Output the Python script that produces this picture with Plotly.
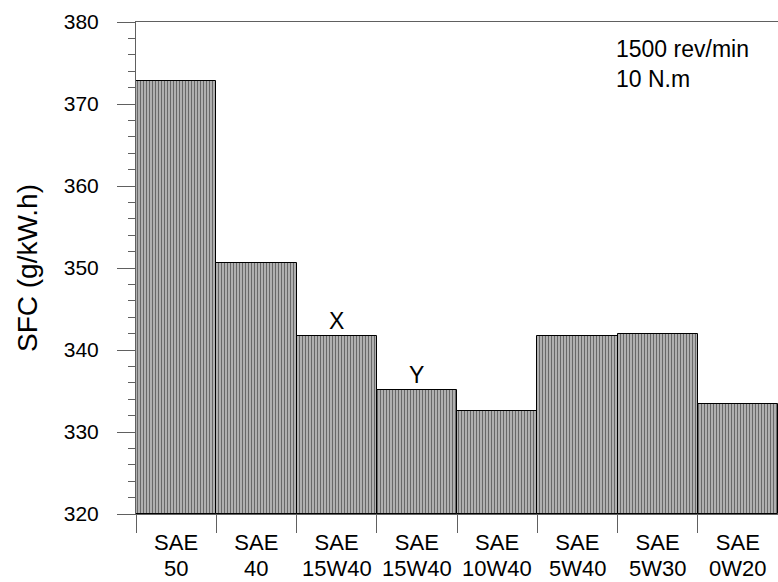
import plotly.graph_objects as go

# Specific fuel consumption for each lubricant grade
family = ["SAE"] * 8
grades = ["50", "40", "15W40", "15W40", "10W40", "5W40", "5W30", "0W20"]
sfc = [372.8, 350.6, 341.7, 335.1, 332.6, 341.7, 341.9, 333.4]
marks = ["", "", "X", "Y", "", "", "", ""]

pos = list(range(len(grades)))
FONT = "Liberation Sans, Arial, sans-serif"
AXIS = "#606060"
FLOOR = 320

fig = go.Figure(go.Bar(
    x=pos, y=[v - FLOOR for v in sfc], base=FLOOR, width=1,
    marker=dict(
        color="#b0b0b0",
        line=dict(color="black", width=1),
        pattern=dict(shape="|", size=3, solidity=0.34,
                     fgcolor="#202020", bgcolor="#b0b0b0"),
    ),
))

for x, v, t in zip(pos, sfc, marks):
    if t:
        fig.add_annotation(x=x, y=v, text=t, showarrow=False,
                           yanchor="bottom", yshift=0,
                           font=dict(family=FONT, size=23, color="black"))

# second line of each category label (grade)
for x, g in zip(pos, grades):
    fig.add_annotation(x=x, xref="x", y=0, yref="paper", yshift=-68,
                       text=g, showarrow=False, yanchor="bottom",
                       borderpad=0,
                       font=dict(family=FONT, size=22, color="black"))

fig.add_annotation(xref="paper", yref="paper", x=0.744, y=0.975,
                   xanchor="left", yanchor="top", align="left",
                   text="1500 rev/min<br>10 N.m", showarrow=False,
                   font=dict(family=FONT, size=23, color="black"))

fig.update_layout(
    width=778, height=582,
    margin=dict(l=136, r=0, t=22, b=68),
    paper_bgcolor="white", plot_bgcolor="white",
    bargap=0, showlegend=False,
    font=dict(family=FONT, size=21, color="black"),
)
fig.update_xaxes(
    range=[-0.5, 7.5], tickvals=pos, ticktext=family,
    ticks="", showgrid=False, zeroline=False,
    showline=True, linecolor=AXIS, linewidth=1, mirror=True,
    tickfont=dict(family=FONT, size=22), ticklabelstandoff=9,
    minor=dict(tick0=-0.5, dtick=1, ticks="outside", ticklen=18,
               tickcolor=AXIS, tickwidth=1, showgrid=False),
)
fig.update_yaxes(
    range=[320, 380], dtick=10, ticks="outside", ticklen=18,
    tickcolor=AXIS, tickwidth=1, showgrid=False, zeroline=False,
    showline=True, linecolor=AXIS, linewidth=1, mirror=False,
    tickfont=dict(family=FONT, size=21), ticklabelstandoff=14,
    minor=dict(dtick=2, ticks="outside", ticklen=7,
               tickcolor=AXIS, tickwidth=1, showgrid=False),
    title=dict(text="SFC (g/kW.h)", font=dict(family=FONT, size=28),
               standoff=17),
)

fig.write_html("out.html")
